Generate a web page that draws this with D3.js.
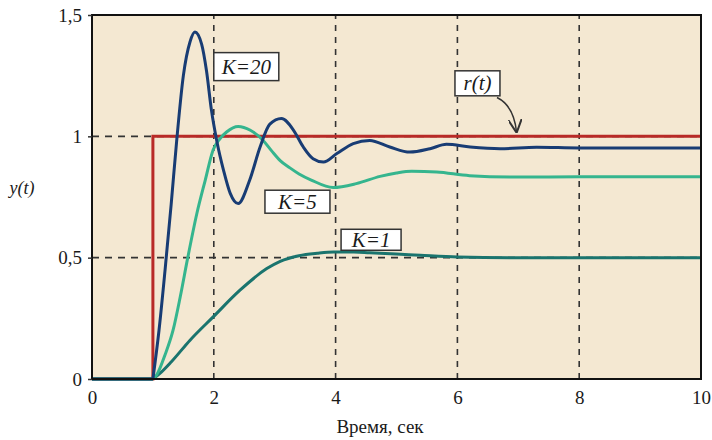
<!DOCTYPE html>
<html>
<head>
<meta charset="utf-8">
<script src="https://cdn.jsdelivr.net/npm/d3@7"></script>
<style>
  body { margin: 0; background: #fff; }
</style>
</head>
<body>
<div id="chart"></div>
<script>
// time / output values
var tStep = [0, 1, 1, 10];
var rStep = [0, 0, 1, 1];

var tK20 = [0, 1, 1.1, 1.2, 1.3, 1.39, 1.5, 1.61, 1.69, 1.8, 1.88, 1.96, 2.05, 2.16, 2.27, 2.4, 2.59, 2.76, 2.92, 3.11, 3.31, 3.47, 3.63, 3.8, 4.02, 4.29, 4.56, 4.89, 5.22, 5.55, 5.82, 6.21, 6.7, 7.3, 8, 9, 10];
var yK20 = [0, 0, 0.2, 0.45, 0.72, 0.98, 1.25, 1.39, 1.43, 1.38, 1.27, 1.11, 0.98, 0.86, 0.765, 0.723, 0.82, 0.956, 1.05, 1.073, 1.025, 0.956, 0.908, 0.894, 0.929, 0.97, 0.983, 0.956, 0.935, 0.949, 0.967, 0.956, 0.949, 0.955, 0.952, 0.952, 0.952];

var tK5 = [0, 1, 1.06, 1.2, 1.33, 1.45, 1.57, 1.72, 1.86, 1.99, 2.1, 2.21, 2.4, 2.6, 2.81, 2.95, 3.09, 3.25, 3.4, 3.6, 3.96, 4.34, 4.73, 5.0, 5.25, 5.66, 6.2, 7, 8, 9, 10];
var yK5 = [0, 0, 0.016, 0.1, 0.2, 0.34, 0.497, 0.68, 0.82, 0.945, 0.99, 1.018, 1.041, 1.025, 0.983, 0.94, 0.9, 0.87, 0.845, 0.82, 0.789, 0.805, 0.835, 0.849, 0.856, 0.853, 0.838, 0.832, 0.833, 0.833, 0.833];

var tK1 = [0, 1, 1.12, 1.3, 1.61, 1.99, 2.43, 2.87, 3.09, 3.4, 3.7, 3.97, 4.3, 4.56, 5.0, 5.39, 6, 7, 8, 9, 10];
var yK1 = [0, 0, 0.024, 0.07, 0.16, 0.256, 0.366, 0.455, 0.485, 0.508, 0.518, 0.523, 0.523, 0.52, 0.515, 0.51, 0.503, 0.5, 0.5, 0.5, 0.5];

var xTicks = [0, 2, 4, 6, 8, 10];
var yTicks = [0, 0.5, 1, 1.5];
var yGrid = [0.5, 1];

var serif = "'Liberation Serif', 'DejaVu Serif', serif";
var width = 712, height = 440;
var svg = d3.select("#chart").append("svg").attr("width", width).attr("height", height)
  .style("font-family", serif);

var x = d3.scaleLinear().domain([0, 10]).range([92, 701]);
var y = d3.scaleLinear().domain([0, 1.5]).range([379, 15]);

// plot background
svg.append("rect").attr("x", x(0)).attr("y", y(1.5)).attr("width", x(10) - x(0)).attr("height", y(0) - y(1.5))
  .attr("fill", "#f4e8d2");

// dashed grid
svg.selectAll(".vgrid").data(xTicks.slice(1, -1)).enter().append("line")
  .attr("x1", function(d){ return x(d); }).attr("x2", function(d){ return x(d); })
  .attr("y1", y(0)).attr("y2", y(1.5))
  .attr("stroke", "#333").attr("stroke-width", 1.6).attr("stroke-dasharray", "6,6");
svg.selectAll(".hgrid").data(yGrid).enter().append("line")
  .attr("x1", x(0)).attr("x2", x(10))
  .attr("y1", function(d){ return y(d); }).attr("y2", function(d){ return y(d); })
  .attr("stroke", "#333").attr("stroke-width", 1.6).attr("stroke-dasharray", "7,6");

function pts(t, v) { return t.map(function(d, i){ return [d, v[i]]; }); }
var line = d3.line().x(function(d){ return x(d[0]); }).y(function(d){ return y(d[1]); }).curve(d3.curveMonotoneX);
var flat = d3.line().x(function(d){ return x(d[0]); }).y(function(d){ return y(d[1]); });

function drawResponse(t, v, color) {
  var p = pts(t, v);
  // dead time part is straight, the response itself is smoothed
  svg.append("path").attr("d", flat(p.slice(0, 2))).attr("fill", "none").attr("stroke", color).attr("stroke-width", 3);
  svg.append("path").attr("d", line(p.slice(1))).attr("fill", "none").attr("stroke", color).attr("stroke-width", 3)
    .attr("stroke-linejoin", "round");
}

svg.append("path").attr("d", flat(pts(tStep, rStep))).attr("fill", "none").attr("stroke", "#b82a27").attr("stroke-width", 3);
drawResponse(tK1, yK1, "#1a746e");
drawResponse(tK5, yK5, "#35b58e");
drawResponse(tK20, yK20, "#183c74");

// frame
svg.append("rect").attr("x", x(0)).attr("y", y(1.5)).attr("width", x(10) - x(0)).attr("height", y(0) - y(1.5))
  .attr("fill", "none").attr("stroke", "#111").attr("stroke-width", 2);

// axes
var xAxis = svg.append("g").attr("transform", "translate(0," + y(0) + ")")
  .call(d3.axisBottom(x).tickValues(xTicks).tickSize(0).tickPadding(12).tickFormat(d3.format("d")));
xAxis.select(".domain").remove();
xAxis.selectAll("text").style("font-size", "19px").style("font-family", serif).attr("fill", "#1a1a1a");

var yAxis = svg.append("g").attr("transform", "translate(" + x(0) + ",0)")
  .call(d3.axisLeft(y).tickValues(yTicks).tickSize(4).tickPadding(6)
    .tickFormat(function(d){ return String(d).replace(".", ","); }));
yAxis.select(".domain").remove();
yAxis.selectAll("line").attr("stroke", "#333").attr("stroke-width", 1.5);
yAxis.selectAll("text").style("font-size", "19px").style("font-family", serif).attr("fill", "#1a1a1a");

svg.append("text").attr("x", 380).attr("y", 433).attr("text-anchor", "middle").attr("fill", "#1a1a1a")
  .style("font-size", "19px").text("Время, сек");
svg.append("text").attr("x", 22).attr("y", 194).attr("text-anchor", "middle").attr("fill", "#1a1a1a")
  .style("font-size", "18px").style("font-style", "italic").text("y(t)");

// boxed labels
var labels = [
  {text: "K=20", t: 2.0, v: 1.345, w: 65, h: 28},
  {text: "K=5", t: 2.84, v: 0.778, w: 65, h: 23},
  {text: "K=1", t: 4.09, v: 0.617, w: 60, h: 21},
  {text: "r(t)", t: 5.96, v: 1.27, w: 45, h: 25}
];
labels.forEach(function(l){
  var g = svg.append("g").attr("transform", "translate(" + x(l.t) + "," + y(l.v) + ")");
  g.append("rect").attr("width", l.w).attr("height", l.h).attr("fill", "#fff").attr("stroke", "#333").attr("stroke-width", 1.5);
  g.append("text").attr("x", l.w / 2).attr("y", l.h / 2 + 7).attr("text-anchor", "middle").attr("fill", "#1a1a1a")
    .style("font-size", "21px").style("font-style", "italic").text(l.text);
});

// arrow from r(t) to the step line
svg.append("defs").append("marker").attr("id", "arr").attr("viewBox", "0 0 10 10")
  .attr("refX", 9).attr("refY", 5).attr("markerWidth", 9).attr("markerHeight", 9).attr("orient", "auto")
  .append("path").attr("d", "M0,0 L10,5 L0,10").attr("fill", "none").attr("stroke", "#333").attr("stroke-width", 1.5);
var a0 = [x(6.65), y(1.16)], a1 = [x(6.97), y(1.02)];
svg.append("path")
  .attr("d", "M" + a0[0] + "," + a0[1] + " Q" + (a1[0] - 3) + "," + (a0[1] + 8) + " " + a1[0] + "," + a1[1])
  .attr("fill", "none").attr("stroke", "#333").attr("stroke-width", 1.5).attr("marker-end", "url(#arr)");
</script>
</body>
</html>
